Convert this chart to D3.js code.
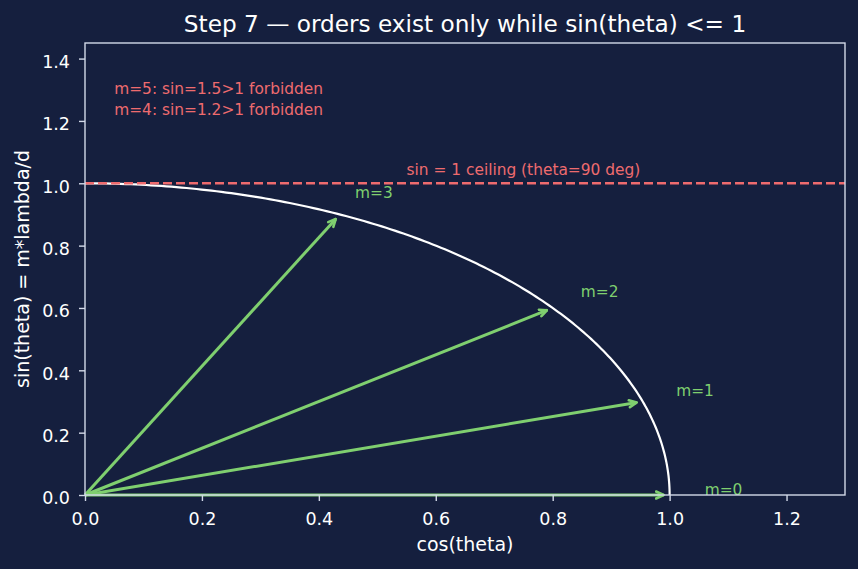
<!DOCTYPE html>
<html>
<head>
<meta charset="utf-8">
<script src="https://cdn.jsdelivr.net/npm/d3@7"></script>
<style>
  html, body { margin: 0; padding: 0; background: #151f3e; }
  svg { display: block; font-family: "DejaVu Sans", sans-serif; }
</style>
</head>
<body>
<svg id="chart" width="858" height="569"></svg>
<script>
// grating orders: sin(theta) = m * lambda/d, only m with sin <= 1 exist
const orders = [0, 1, 2, 3];
const sinValues = [0.0, 0.3, 0.6, 0.9];
const forbiddenNotes = ["m=5: sin=1.5>1 forbidden", "m=4: sin=1.2>1 forbidden"];
const forbiddenY = [1.285, 1.218];
const xTicks = [0.0, 0.2, 0.4, 0.6, 0.8, 1.0, 1.2];
const yTicks = [0.0, 0.2, 0.4, 0.6, 0.8, 1.0, 1.2, 1.4];

const width = 858, height = 569;
const margin = { top: 43, right: 13, bottom: 74, left: 85 };

const fg = "#ffffff", spine = "#d2d9e8";
const green = "#7fcf6f", red = "#ee6b6e";

const svg = d3.select("#chart");

const x = d3.scaleLinear().domain([0, 1.3]).range([margin.left, width - margin.right]);
const y = d3.scaleLinear().domain([0, 1.45]).range([height - margin.bottom, margin.top]);

svg.append("defs").append("marker")
    .attr("id", "head")
    .attr("viewBox", "0 0 10 10")
    .attr("refX", 9).attr("refY", 5)
    .attr("markerWidth", 10).attr("markerHeight", 10)
    .attr("markerUnits", "userSpaceOnUse")
    .attr("orient", "auto")
  .append("path")
    .attr("d", "M1.5,1.5 L9,5 L1.5,8.5")
    .attr("fill", "none")
    .attr("stroke", green)
    .attr("stroke-width", 2.6)
    .attr("stroke-linecap", "round")
    .attr("stroke-linejoin", "round");

const g = svg.append("g");

// unit circle arc (cos, sin)
const arcPts = d3.range(0, 90.5, 0.5).map(a => [Math.cos(a * Math.PI / 180), Math.sin(a * Math.PI / 180)]);
g.append("path")
    .datum(arcPts)
    .attr("d", d3.line().x(d => x(d[0])).y(d => y(d[1])))
    .attr("fill", "none")
    .attr("stroke", fg)
    .attr("stroke-width", 2.2);

// sin = 1 ceiling
g.append("line")
    .attr("x1", x(0)).attr("x2", x(1.3))
    .attr("y1", y(1)).attr("y2", y(1))
    .attr("stroke", red)
    .attr("stroke-width", 2.4)
    .attr("stroke-dasharray", "9,4");

g.append("text")
    .attr("x", x(0.55)).attr("y", y(1.025))
    .attr("fill", red)
    .attr("font-size", 15.4)
    .text("sin = 1 ceiling (theta=90 deg)");

g.selectAll(".note")
  .data(forbiddenNotes)
  .enter().append("text")
    .attr("x", x(0.05))
    .attr("y", (d, i) => y(forbiddenY[i]))
    .attr("fill", red)
    .attr("font-size", 15.4)
    .text(d => d);

// order arrows
const shrink = 6;
function tip(i) {
    const s = sinValues[i], c = Math.sqrt(1 - s * s);
    const x2 = x(c), y2 = y(s), dx = x2 - x(0), dy = y2 - y(0), L = Math.hypot(dx, dy);
    return [x2 - dx / L * shrink, y2 - dy / L * shrink];
}
g.selectAll(".arrow")
  .data(orders)
  .enter().append("line")
    .attr("x1", x(0)).attr("y1", y(0))
    .attr("x2", (d, i) => tip(i)[0])
    .attr("y2", (d, i) => tip(i)[1])
    .attr("stroke", green)
    .attr("stroke-width", 3)
    .attr("marker-end", "url(#head)");

g.selectAll(".mlabel")
  .data(orders)
  .enter().append("text")
    .attr("x", (d, i) => x(1.06 * Math.sqrt(1 - sinValues[i] ** 2)))
    .attr("y", (d, i) => y(1.06 * sinValues[i]))
    .attr("fill", green)
    .attr("font-size", 15.4)
    .text(d => "m=" + d);

// axes
const xAxis = svg.append("g")
    .attr("transform", `translate(0,${y(0)})`)
    .call(d3.axisBottom(x).tickValues(xTicks).tickFormat(d3.format(".1f")).tickSize(6).tickPadding(11.5));
const yAxis = svg.append("g")
    .attr("transform", `translate(${x(0)},0)`)
    .call(d3.axisLeft(y).tickValues(yTicks).tickFormat(d3.format(".1f")).tickSize(6).tickPadding(9));

[xAxis, yAxis].forEach(a => {
    a.select(".domain").remove();
    a.selectAll(".tick line").attr("stroke", spine).attr("stroke-width", 1.4);
    a.selectAll(".tick text").attr("fill", fg).attr("font-size", 17.5).attr("font-family", "DejaVu Sans, sans-serif");
});
yAxis.selectAll(".tick text").attr("dy", "0.5em");

// spines
svg.append("rect")
    .attr("x", x(0)).attr("y", y(1.45))
    .attr("width", x(1.3) - x(0)).attr("height", y(0) - y(1.45))
    .attr("fill", "none")
    .attr("stroke", spine)
    .attr("stroke-width", 1.4);

svg.append("text")
    .attr("x", (x(0) + x(1.3)) / 2).attr("y", 32)
    .attr("text-anchor", "middle")
    .attr("fill", fg)
    .attr("font-size", 23.2)
    .text("Step 7 \u2014 orders exist only while sin(theta) <= 1");

svg.append("text")
    .attr("x", (x(0) + x(1.3)) / 2).attr("y", 551)
    .attr("text-anchor", "middle")
    .attr("fill", fg)
    .attr("font-size", 19)
    .text("cos(theta)");

svg.append("text")
    .attr("transform", `translate(29,${(y(0) + y(1.45)) / 2}) rotate(-90)`)
    .attr("text-anchor", "middle")
    .attr("fill", fg)
    .attr("font-size", 19)
    .text("sin(theta) = m*lambda/d");
</script>
</body>
</html>
